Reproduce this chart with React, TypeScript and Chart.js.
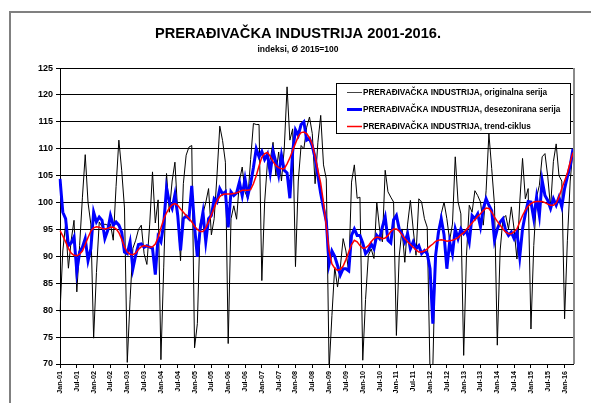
import React, { useEffect, useRef } from 'react';
import { Chart, registerables } from 'chart.js';

Chart.register(...registerables);

const FONT = "'Liberation Sans', Arial, Helvetica, sans-serif";

const TITLE = 'PRERAĐIVAČKA INDUSTRIJA 2001-2016.';
const SUBTITLE = 'indeksi, Ø 2015=100';

const SERIES_NAMES = [
  'PRERAĐIVAČKA INDUSTRIJA, originalna serija',
  'PRERAĐIVAČKA INDUSTRIJA, desezonirana serija',
  'PRERAĐIVAČKA INDUSTRIJA, trend-ciklus',
];

const MONTHS = ['Jan', 'Feb', 'Mar', 'Apr', 'May', 'Jun', 'Jul', 'Aug', 'Sep', 'Oct', 'Nov', 'Dec'];
const YEARS = ['01', '02', '03', '04', '05', '06', '07', '08', '09', '10', '11', '12', '13', '14', '15', '16'];
const LAST_YEAR_MONTHS = 4;

const Y_MIN = 70;
const Y_MAX = 125;
const Y_STEP = 5;
const LABEL_EVERY = 6;

// originalna serija (2001-01 .. 2016-04)
const ORIGINAL = [
  79.6, 91, 96, 87.8, 93, 96.7, 83.4, 92, 101, 108.9, 100, 96,
  74.8, 87, 96.4, 95.5, 96, 95.8, 96, 93, 103, 111.6, 106, 99,
  70.3, 82, 91.5, 93, 95, 95.8, 90.5, 88.5, 96, 105.7, 96.2, 100.5,
  70.8, 88, 105.4, 98.2, 104, 107.5, 98, 89.2, 103.5, 108.8, 110.3, 110.6,
  73, 77.5, 96, 98, 100, 102.6, 94, 97, 105, 114.2, 111.5, 107.5,
  73.8, 97, 99.4, 96.9, 104, 106.6, 102, 100.7, 108, 114.7, 114.5, 114.5,
  85.5, 100, 107.5, 108, 111.2, 105.1, 109.4, 104, 110, 121.5, 111.6, 113.7,
  88.1, 104, 110.6, 110, 114, 115.9, 112.8, 103.5, 111.2, 116.2, 107, 104.4,
  69, 79, 88, 84.3, 88, 93.3, 91, 87.1, 103.8, 107, 100.8, 101,
  70.7, 82, 90.2, 91.4, 89.6, 100.1, 95.1, 92.7, 106, 102, 101, 100.1,
  75.3, 90, 95.1, 88.9, 96, 100.4, 95, 90.2, 100.7, 100.1, 97, 95.4,
  68.5, 69.5, 91.4, 93.8, 97.9, 100.1, 97, 93, 96, 108.5, 100.1, 97.9,
  71.6, 90.2, 99.5, 98.2, 102.2, 101.3, 100.1, 95.8, 102.2, 112.8, 106.3, 99.5,
  73.5, 91, 97, 97.6, 95.1, 99.2, 95, 89.5, 100, 108.2, 100.7, 102.6,
  76.5, 92, 101, 103.2, 108.5, 109.1, 104.8, 99, 107.6, 110.9, 105, 104,
  78.4, 93, 104, 110,
];

// desezonirana serija
const SEASONALLY_ADJUSTED = [
  104.4, 98.2, 97.0, 92.0, 92.5, 93.6, 87.2, 90.8, 91.7, 93.3, 89.2, 91.4,
  98.2, 96.4, 97.3, 96.7, 93.3, 94.8, 97.6, 95.8, 96.4, 95.8, 94.5, 90.8,
  90.5, 92.7, 87.7, 90.2, 92.2, 92.3, 91.7, 92.0, 91.7, 91.5, 86.6, 93.6,
  92.7, 96.0, 102.7, 100.1, 98.9, 101.5, 97.6, 91.1, 97.0, 97.5, 97.0, 103.1,
  95.5, 89.9, 95.1, 98.2, 92.7, 97.0, 97.6, 100.7, 100.1, 102.6, 101.6, 102.0,
  95.4, 102.0, 101.3, 101.8, 103.8, 101.3, 104.4, 101.3, 103.5, 106.5, 110.0, 108.5,
  109.5, 108.0, 109.0, 105.5, 109.5, 107.5, 105.1, 108.8, 106.0, 105.5, 100.8, 109.5,
  113.5, 112.5, 114.5, 115.0, 111.6, 111.9, 110.5, 108.3, 105.0, 101.7, 99.0, 96.5,
  88.6, 91.0, 90.0, 88.3, 86.5, 87.7, 87.7, 87.3, 93.9, 95.1, 93.9, 93.9,
  92.5, 90.5, 91.1, 92.3, 91.4, 93.9, 93.3, 95.5, 97.3, 93.0, 92.5, 96.8,
  97.6, 95.1, 94.2, 92.7, 94.2, 91.4, 92.7, 91.4, 92.0, 90.5, 91.1, 90.5,
  87.7, 77.5, 90.2, 94.5, 97.0, 94.0, 87.7, 92.7, 90.5, 95.1, 93.3, 95.1,
  94.2, 94.8, 92.7, 97.6, 97.0, 97.9, 95.5, 98.9, 100.7, 99.5, 98.5, 93.0,
  95.1, 96.4, 97.0, 94.8, 93.9, 94.5, 93.3, 94.5, 89.9, 95.1, 97.9, 100.2,
  100.1, 97.0, 101.0, 97.6, 104.1, 101.3, 100.4, 98.9, 100.7, 99.5, 101.0, 99.2,
  102.6, 104.8, 106.8, 110.0,
];

// trend-ciklus
const TREND = [
  94.8, 93.8, 92.7, 91.5, 90.6, 90.2, 90.1, 90.4, 91.0, 92.2, 93.5, 94.7,
  95.3, 95.5, 95.4, 95.2, 95.1, 95.2, 95.4, 95.4, 95.1, 94.4, 93.2, 91.8,
  90.8, 90.4, 90.3, 90.6, 91.3, 91.8, 92.0, 91.9, 91.7, 91.8, 92.3, 93.5,
  95.3, 96.9, 98.1, 99.0, 99.6, 99.8, 99.5, 98.8, 98.2, 97.6, 97.1, 96.4,
  95.6, 95.0, 94.6, 94.6, 95.3, 96.4, 97.7, 99.0, 100.3, 101.1, 101.5, 101.6,
  101.6, 101.6, 101.7, 101.8, 102.0, 102.3, 102.3, 102.3, 102.4, 103.5, 105.0, 106.8,
  108.4, 109.1, 109.3, 108.6, 107.6, 106.9, 106.5, 106.3, 106.3, 107.2, 108.3, 109.7,
  111.0, 112.3, 113.0, 113.1, 112.8, 112.0, 110.8, 108.6, 106.0, 103.6, 100.0, 95.5,
  91.0, 88.6, 87.8, 87.4, 87.6, 88.2, 89.4, 90.8, 92.2, 93.0, 92.7, 92.0,
  91.5, 91.6, 92.0, 92.7, 93.3, 93.6, 93.5, 93.3, 93.4, 93.9, 94.6, 95.1,
  95.1, 94.7, 94.0, 93.3, 92.7, 92.2, 91.7, 91.2, 90.8, 90.8, 91.0, 91.4,
  91.9, 92.3, 92.8, 93.0, 93.1, 93.0, 92.8, 92.9, 93.0, 93.2, 93.5, 94.0,
  94.4, 95.0, 95.6, 96.2, 96.8, 97.4, 97.9, 98.5, 99.0, 98.9, 98.2, 97.3,
  96.5, 95.8, 95.1, 94.5, 94.2, 94.2, 94.6, 95.1, 96.4, 97.6, 98.6, 99.3,
  99.8, 100.1, 100.2, 100.2, 100.2, 100.0, 99.7, 99.5, 99.5, 99.9, 101.0, 102.6,
  104.0, 105.5, 107.5, 109.3,
];

const SERIES_COLORS = ['#000000', '#0000ff', '#ff0000'];
const SERIES_WIDTHS = [1, 3, 1.5];

function buildLabels(): string[] {
  const out: string[] = [];
  YEARS.forEach((y, yi) => {
    const n = yi === YEARS.length - 1 ? LAST_YEAR_MONTHS : 12;
    for (let m = 0; m < n; m++) out.push(`${MONTHS[m]}-${y}`);
  });
  return out;
}

const LABELS = buildLabels();

const framePlugin = {
  id: 'frame',
  beforeDraw(chart: any) {
    const ctx = chart.ctx;
    ctx.save();
    ctx.fillStyle = '#ffffff';
    ctx.fillRect(0, 0, chart.width, chart.height);
    ctx.strokeStyle = '#808080';
    ctx.lineWidth = 2;
    ctx.strokeRect(10, 12, 700, 500);
    ctx.restore();
  },
  afterDraw(chart: any) {
    const ctx = chart.ctx;
    const a = chart.chartArea;
    ctx.save();
    // right border of plot area
    ctx.strokeStyle = '#8a8a8a';
    ctx.lineWidth = 2;
    ctx.beginPath();
    ctx.moveTo(a.right + 1, a.top);
    ctx.lineTo(a.right + 1, a.bottom);
    ctx.stroke();

    // legend box
    const bx = 336.5, by = 83.5, bw = 234, bh = 50;
    ctx.fillStyle = '#ffffff';
    ctx.fillRect(bx, by, bw, bh);
    ctx.strokeStyle = '#000000';
    ctx.lineWidth = 1;
    ctx.strokeRect(bx, by, bw, bh);
    const rows = [92, 109, 126];
    ctx.font = `bold 8.2px ${FONT}`;
    ctx.textBaseline = 'middle';
    ctx.textAlign = 'left';
    SERIES_NAMES.forEach((name, i) => {
      ctx.strokeStyle = i === 0 ? '#444444' : SERIES_COLORS[i];
      ctx.lineWidth = SERIES_WIDTHS[i];
      ctx.beginPath();
      ctx.moveTo(347, rows[i] + 0.5);
      ctx.lineTo(362, rows[i] + 0.5);
      ctx.stroke();
      ctx.fillStyle = '#000000';
      ctx.fillText(name, 363, rows[i] + 1);
    });
    ctx.restore();
  },
};

export default function App() {
  const ref = useRef<HTMLCanvasElement | null>(null);

  useEffect(() => {
    if (!ref.current) return;
    const datasets = [ORIGINAL, SEASONALLY_ADJUSTED, TREND].map((data, i) => ({
      label: SERIES_NAMES[i],
      data,
      borderColor: SERIES_COLORS[i],
      backgroundColor: SERIES_COLORS[i],
      borderWidth: SERIES_WIDTHS[i],
      pointRadius: 0,
      tension: 0,
      fill: false,
      order: 3 - i,
    }));

    const chart = new Chart(ref.current, {
      type: 'line',
      data: { labels: LABELS, datasets },
      plugins: [framePlugin],
      options: {
        animation: false,
        responsive: false,
        devicePixelRatio: 1,
        layout: { padding: { left: 23, right: 18, top: 0, bottom: 0 } },
        plugins: {
          legend: { display: false },
          tooltip: { enabled: false },
          title: {
            display: true,
            text: TITLE,
            color: '#000',
            font: { family: FONT, size: 14.6, weight: 'bold' },
            padding: { top: 25.6, bottom: 0 },
          },
          subtitle: {
            display: true,
            text: SUBTITLE,
            color: '#000',
            font: { family: FONT, size: 8.5, weight: 'bold' },
            padding: { top: 1.3, bottom: 13.4 },
          },
        },
        scales: {
          x: {
            type: 'category',
            offset: false,
            grid: { display: true, drawOnChartArea: false, drawTicks: true, tickLength: 4, color: '#000' },
            border: { display: true, color: '#000', width: 1 },
            ticks: {
              autoSkip: false,
              maxRotation: 90,
              minRotation: 90,
              padding: 3,
              color: '#000',
              font: { family: FONT, size: 7.2, weight: 'bold' },
              callback: (_v: any, i: number) => (i % LABEL_EVERY === 0 ? LABELS[i] : null),
            },
            afterFit: (s: any) => { s.height = 39; },
          },
          y: {
            min: Y_MIN,
            max: Y_MAX,
            grid: { color: '#000', tickLength: 4, lineWidth: 1 },
            border: { display: true, color: '#000', width: 1 },
            ticks: {
              stepSize: Y_STEP,
              padding: 3,
              color: '#000',
              font: { family: FONT, size: 9, weight: 'bold' },
            },
            afterFit: (s: any) => { s.width = 37; },
          },
        },
      } as any,
    });
    return () => chart.destroy();
  }, []);

  return (
    <div style={{ position: 'fixed', left: 0, top: 0, width: 591, height: 403, background: '#fff' }}>
      <canvas ref={ref} width={591} height={403} style={{ display: 'block', width: 591, height: 403 }} />
    </div>
  );
}
